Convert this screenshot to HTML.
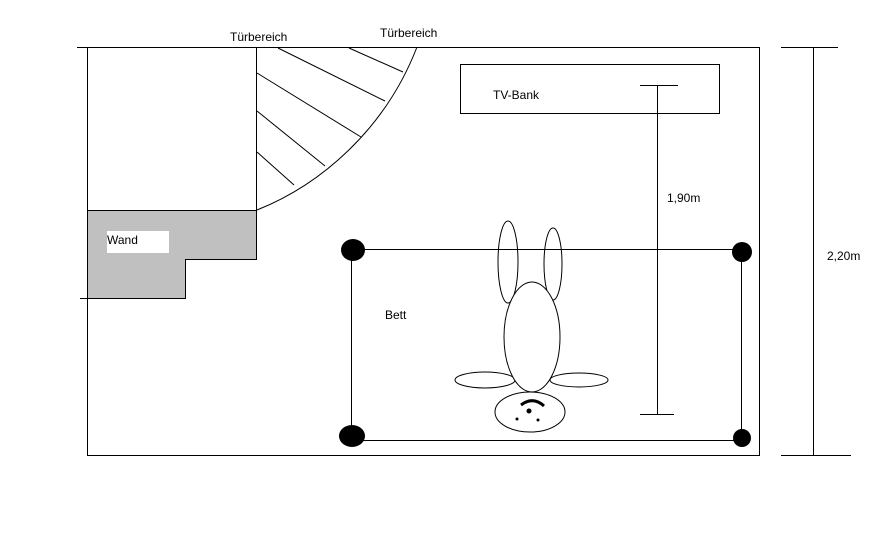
<!DOCTYPE html>
<html><head><style>body{margin:0;background:#fff}svg{display:block}</style></head><body>
<svg width="877" height="546" xmlns="http://www.w3.org/2000/svg" font-family="Liberation Sans, sans-serif" font-size="12">
<rect width="877" height="546" fill="#fff"/>
<g stroke="#000" stroke-width="1" fill="none">
<line x1="77" y1="47.5" x2="760" y2="47.5"/>
<line x1="87.5" y1="47" x2="87.5" y2="456"/>
<line x1="87" y1="455.5" x2="759" y2="455.5"/>
<line x1="759.5" y1="47" x2="759.5" y2="456"/>
<polygon points="87.5,210.5 256.5,210.5 256.5,259.5 185.5,259.5 185.5,298.5 87.5,298.5" fill="#c0c0c0"/>
<line x1="80" y1="298.5" x2="88" y2="298.5"/>
<line x1="256.5" y1="47" x2="256.5" y2="210"/>
<path d="M257,210 C320,185 385,130 417,47"/>
<line x1="278" y1="48" x2="385" y2="101"/>
<line x1="349" y1="48" x2="403" y2="72"/>
<line x1="257" y1="73" x2="361" y2="137"/>
<line x1="257" y1="111" x2="325" y2="166"/>
<line x1="257" y1="152" x2="294" y2="185"/>
<rect x="460.5" y="64.5" width="259" height="49"/>
<line x1="657.5" y1="85" x2="657.5" y2="415"/>
<line x1="640" y1="85.5" x2="678" y2="85.5"/>
<line x1="640" y1="414.5" x2="674" y2="414.5"/>
<rect x="351.5" y="249.5" width="390" height="191"/>
<line x1="813.5" y1="47" x2="813.5" y2="455"/>
<line x1="781" y1="47.5" x2="838" y2="47.5"/>
<line x1="781" y1="455.5" x2="851" y2="455.5"/>
<ellipse cx="508" cy="262" rx="10" ry="41" fill="none"/>
<ellipse cx="553" cy="264" rx="9" ry="36" fill="none"/>
<ellipse cx="485" cy="380" rx="30" ry="8" fill="#fff"/>
<ellipse cx="579" cy="380" rx="29" ry="7" fill="#fff"/>
<ellipse cx="532" cy="337" rx="28" ry="55" fill="#fff"/>
<ellipse cx="530" cy="412" rx="35" ry="20" fill="#fff"/>
<path d="M521,405 Q533,396 544,406" stroke-width="3"/>
</g>
<g fill="#000">
<ellipse cx="353" cy="250" rx="12" ry="11"/>
<ellipse cx="352" cy="436" rx="13" ry="11"/>
<ellipse cx="742" cy="252" rx="10" ry="10"/>
<ellipse cx="742" cy="438" rx="9" ry="9"/>
<circle cx="529" cy="411" r="2.5"/>
<circle cx="517" cy="419" r="1.5"/>
<circle cx="538" cy="420" r="1.5"/>
</g>
<rect x="107" y="231" width="62" height="22" fill="#fff"/>
<text x="107" y="244">Wand</text>
<text x="230" y="41">Türbereich</text>
<text x="380" y="37">Türbereich</text>
<text x="493" y="99">TV-Bank</text>
<text x="667" y="202">1,90m</text>
<text x="385" y="319">Bett</text>
<text x="827" y="260">2,20m</text>
</svg>
</body></html>
